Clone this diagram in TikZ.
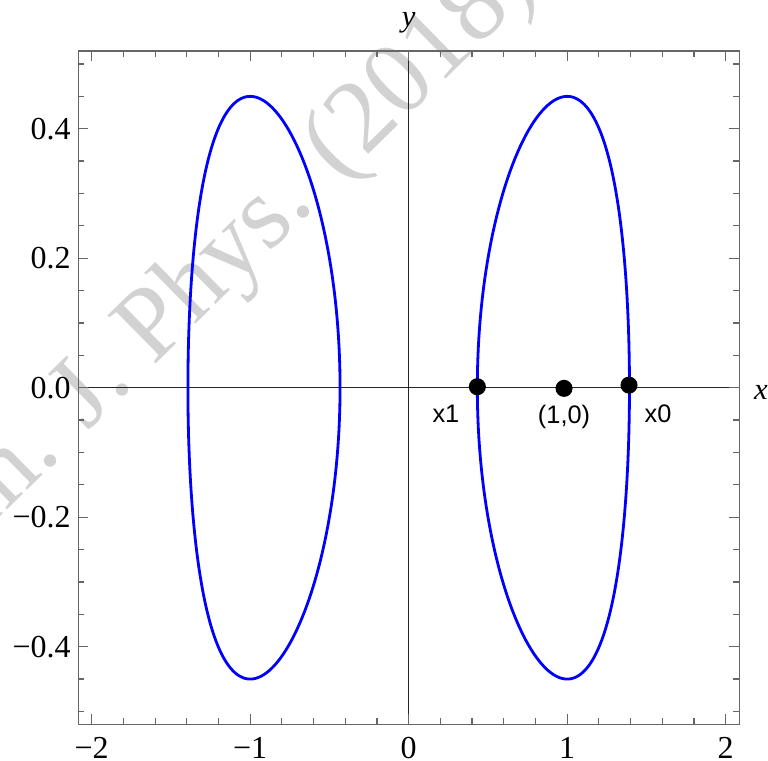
\documentclass[tikz,border=0pt]{standalone}
\usepackage{fontspec}
\setmainfont{Liberation Serif}
\newfontfamily\lblfont{Liberation Sans}
\usepackage{tikz}
\usetikzlibrary{positioning}

\begin{document}
\begin{tikzpicture}[x=118.875pt, y=485.625pt,
  plotframe/.style={draw=black!60, line width=0.9pt},
  tickmark/.style={black!60, line width=0.9pt},
  axisline/.style={black!85, line width=0.6pt},
  curve/.style={blue, line width=2.1pt, line join=round},
  ptdot/.style={circle, fill=black, inner sep=0pt, minimum size=12.8pt},
  ticklbl/.style={inner sep=0pt, font=\fontsize{24}{28}\selectfont},
  ptlbl/.style={inner sep=0pt, font=\lblfont\fontsize{19}{22}\selectfont},
  axislbl/.style={inner sep=0pt, font=\itshape\fontsize{23}{27}\selectfont}]

\useasboundingbox (-2.5786,-0.575) rectangle (2.2669,0.5988);

% Watermark
\begin{scope}
\clip (-2.5786,-0.575) rectangle (2.2669,0.5988);
\node[anchor=base west, inner sep=0pt, rotate=44.5, text=gray!35,
      font=\fontsize{78}{84}\selectfont] (wmark) at (-3.003,-0.3021) {Am. J. Phys. (2018)};
\end{scope}

% Axes through the origin
\draw[axisline] (-2.085,0) -- (2.085,0);
\draw[axisline] (0,-0.52) -- (0,0.52);

% Ticks
\foreach \x in {-2,-1.8,...,2.01} {
   \draw[tickmark] (\x,-0.52) -- ++(0,4.5pt);
   \draw[tickmark] (\x,0.52) -- ++(0,-4.5pt);
}
\foreach \x in {-2,...,2} {
   \draw[tickmark] (\x,-0.52) -- ++(0,7.5pt);
   \draw[tickmark] (\x,0.52) -- ++(0,-7.5pt);
}
\foreach \y in {-0.5,-0.45,...,0.51} {
   \draw[tickmark] (-2.085,\y) -- ++(4.5pt,0);
   \draw[tickmark] (2.085,\y) -- ++(-4.5pt,0);
}
\foreach \y in {-0.4,-0.2,...,0.41} {
   \draw[tickmark] (-2.085,\y) -- ++(7.5pt,0);
   \draw[tickmark] (2.085,\y) -- ++(-7.5pt,0);
}
\draw[plotframe] (-2.085,-0.52) rectangle (2.085,0.52);

% Tick labels
\foreach \x/\t in {-2/−2, -1/−1, 0/0, 1/1, 2/2}
   \node[ticklbl, yshift=-17.6pt] (xt\x) at (\x,-0.52) {\t};
\foreach \y/\t in {-0.4/−0.4, -0.2/−0.2, 0/0.0, 0.2/0.2, 0.4/0.4}
   \node[ticklbl, anchor=east, xshift=-5.5pt] (yt\y) at (-2.085,\y) {\t};

% Curves
\draw[curve] plot[domain=0:360, samples=181]
   ({-1-0.48*cos(\x)+0.087*cos(\x)*cos(\x)}, {0.45*sin(\x)}) -- cycle;
\draw[curve] plot[domain=0:360, samples=181]
   ({1+0.48*cos(\x)-0.087*cos(\x)*cos(\x)}, {0.45*sin(\x)}) -- cycle;

% Points
\node[ptdot] (x1) at (0.433,0.0015) {};
\node[ptdot] (ctr) at (0.98,-0.001) {};
\node[ptdot] (x0) at (1.39,0.004) {};

% Labels
\node[ptlbl] (x1lbl) at (0.235,-0.041) {x1};
\node[ptlbl] (ctrlbl) at (0.98,-0.0445) {(1,0)};
\node[ptlbl] (x0lbl) at (1.573,-0.041) {x0};
\node[axislbl] (ylbl) at (0,0.5633) {y};
\node[axislbl] (xlbl) at (2.2227,-0.0066) {x};
\end{tikzpicture}
\end{document}
